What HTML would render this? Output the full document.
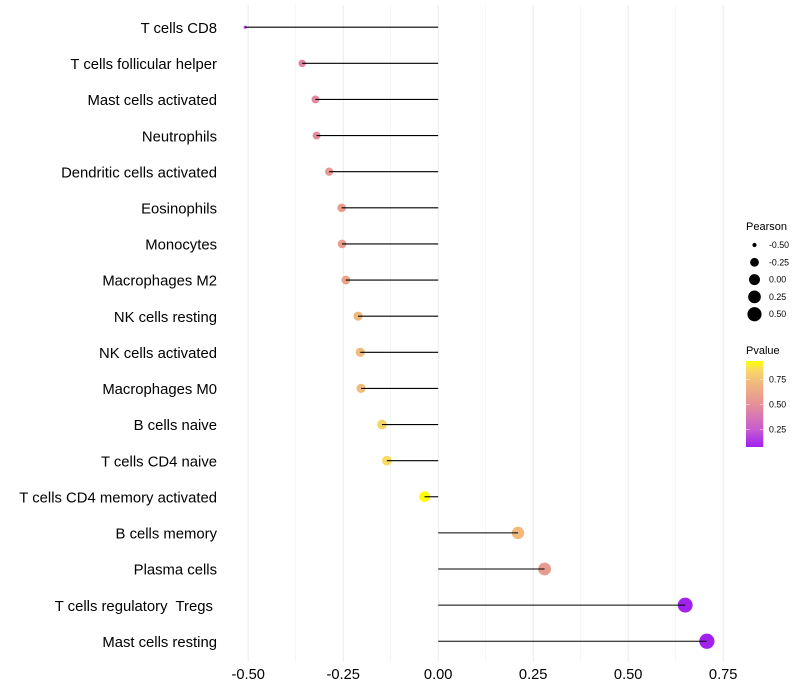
<!DOCTYPE html>
<html lang="en">
<head>
<meta charset="utf-8">
<title>Immune cell correlation lollipop chart</title>
<style>
html,body{margin:0;padding:0;background:#fff;width:800px;height:700px;overflow:hidden}
svg{display:block;font-family:"Liberation Sans",sans-serif}
</style>
</head>
<body>
<svg id="chart" width="800" height="700" viewBox="0 0 800 700">
  <defs>
    <linearGradient id="pvalue-gradient" x1="0" y1="1" x2="0" y2="0"></linearGradient>
  </defs>
  <g id="grid"></g>
  <g id="marks"></g>
  <g id="yaxis"></g>
  <g id="xaxis"></g>
  <g id="size-legend">
    <text x="746" y="230" font-size="11" fill="#000">Pearson</text>
  </g>
  <g id="color-legend">
    <text x="746" y="354" font-size="11" fill="#000">Pvalue</text>
  </g>
</svg>
<script>
const categories = ["T cells CD8","T cells follicular helper","Mast cells activated","Neutrophils","Dendritic cells activated","Eosinophils","Monocytes","Macrophages M2","NK cells resting","NK cells activated","Macrophages M0","B cells naive","T cells CD4 naive","T cells CD4 memory activated","B cells memory","Plasma cells","T cells regulatory  Tregs ","Mast cells resting"];
const pearson = [-0.508,-0.358,-0.323,-0.320,-0.287,-0.254,-0.253,-0.243,-0.211,-0.205,-0.203,-0.148,-0.135,-0.036,0.210,0.280,0.650,0.707];
const pvalue = [0.20,0.44,0.47,0.48,0.54,0.57,0.57,0.60,0.71,0.72,0.73,0.82,0.85,0.935,0.72,0.56,0.08,0.08];
const xTicks = [-0.50,-0.25,0.00,0.25,0.50,0.75];
const xMinorTicks = [-0.375,-0.125,0.125,0.375,0.625];
const sizeLegendValues = [-0.50,-0.25,0.00,0.25,0.50];
const colorLegendTicks = [0.25,0.50,0.75];
const colorDomain = [0.075,0.25,0.50,0.75,0.85,0.935];
const colorRange = ["#a020f0","#c65cd0","#e59098","#f3c078","#fadb62","#ffff00"];

const NS = "http://www.w3.org/2000/svg";
const xScale = v => 438.2 + v * 380;
const yScale = i => 27.2 + i * 36.12;
const pMin = Math.min(...pearson);
const pMax = Math.max(...pearson);
const rScale = v => 1.6 + 6 * Math.sqrt(Math.max(0, (v - pMin) / (pMax - pMin)));
const pY = p => 404.5 - (p - 0.5) * 100;

function hexToRgb(h){return [1,3,5].map(i => parseInt(h.slice(i,i+2),16));}
function colorScale(p){
  let i = 0;
  while(i < colorDomain.length - 2 && p > colorDomain[i+1]) i++;
  const t = Math.min(1, Math.max(0, (p - colorDomain[i]) / (colorDomain[i+1] - colorDomain[i])));
  const a = hexToRgb(colorRange[i]), b = hexToRgb(colorRange[i+1]);
  return "rgb(" + a.map((c,k) => Math.round(c + (b[k]-c)*t)).join(",") + ")";
}
function make(tag, attrs, parent){
  const el = document.createElementNS(NS, tag);
  for(const k in attrs) el.setAttribute(k, attrs[k]);
  parent.appendChild(el);
  return el;
}

const grid = document.getElementById("grid");
xTicks.forEach(t => {
  const el = make("line",{x1:xScale(t),x2:xScale(t),y1:5,y2:662,stroke:"#ebebeb","stroke-width":1},grid);
  
  
});
xMinorTicks.forEach(t => {
  const el = make("line",{x1:xScale(t),x2:xScale(t),y1:5,y2:662,stroke:"#f1f1f1","stroke-width":0.6},grid);
  
  
});

const marks = document.getElementById("marks");
categories.forEach((c,i) => {
  const dot = make("circle",{cx:xScale(pearson[i]),cy:yScale(i),r:rScale(pearson[i]),fill:colorScale(pvalue[i])},marks);
  
  
  const seg = make("line",{x1:xScale(0),x2:xScale(pearson[i]),y1:yScale(i),y2:yScale(i),stroke:"#000","stroke-width":1.1},marks);
  
  
});

const yaxis = document.getElementById("yaxis");
categories.forEach((c,i) => {
  const t = make("text",{x:217,y:yScale(i)+5.7,"text-anchor":"end","font-size":14.85,fill:"#000"},yaxis);
  t.setAttribute("xml:space","preserve");
  t.style.whiteSpace = "pre";
  t.textContent = c;
  
  
});

const xaxis = document.getElementById("xaxis");
xTicks.forEach(v => {
  const t = make("text",{x:xScale(v),y:679,"text-anchor":"middle","font-size":14.67,fill:"#000"},xaxis);
  t.textContent = v.toFixed(2);
  
  
});

const sizeLegend = document.getElementById("size-legend");
sizeLegendValues.forEach((v,i) => {
  const y = 245 + i * 17.3;
  const c = make("circle",{cx:754.5,cy:y,r:rScale(v),fill:"#000"},sizeLegend);
  
  
  const t = make("text",{x:769,y:y+3,"font-size":8.8,fill:"#000"},sizeLegend);
  t.textContent = v.toFixed(2);
  
  
});

const gradient = document.getElementById("pvalue-gradient");
colorDomain.forEach((p,i) => {
  const off = (p - colorDomain[0]) / (colorDomain[colorDomain.length-1] - colorDomain[0]);
  make("stop",{offset:off,"stop-color":colorRange[i]},gradient);
});
const colorLegend = document.getElementById("color-legend");
const bar = make("rect",{x:746,y:pY(0.935),width:17.3,height:pY(0.075)-pY(0.935),fill:"url(#pvalue-gradient)"},colorLegend);


colorLegendTicks.forEach(p => {
  const y = pY(p);
  const l1 = make("line",{x1:746,x2:749.5,y1:y,y2:y,stroke:"#fff","stroke-opacity":0.7,"stroke-width":0.7},colorLegend);
  
  
  const l2 = make("line",{x1:759.8,x2:763.3,y1:y,y2:y,stroke:"#fff","stroke-opacity":0.7,"stroke-width":0.7},colorLegend);
  
  
  const t = make("text",{x:769,y:y+3,"font-size":8.8,fill:"#000"},colorLegend);
  t.textContent = p.toFixed(2);
  
  
});
</script>
</body>
</html>
